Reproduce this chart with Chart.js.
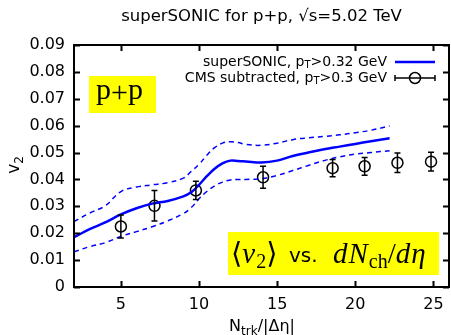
<!DOCTYPE html>
<html><head><meta charset="utf-8">
<script src="https://cdn.jsdelivr.net/npm/chart.js@4"></script>
<style>html,body{margin:0;padding:0;background:#fff}#wrap{width:451px;height:335px}</style>
</head><body><div id="wrap"><canvas id="c" width="451" height="335"></canvas></div>
<script>
// ---- data ----
const curveX     = [2, 3, 4, 5, 6, 7, 8, 9, 9.5, 10, 10.5, 11, 11.5, 12, 12.5, 13, 14, 15, 16, 17, 18, 19, 20, 21, 22.2];
const modelMean  = [0.0185, 0.0215, 0.0240, 0.0270, 0.0293, 0.0310, 0.0320, 0.0337, 0.0352, 0.0380, 0.0412, 0.0440, 0.0460, 0.0470, 0.0469, 0.0467, 0.0463, 0.0470, 0.0487, 0.0500, 0.0512, 0.0522, 0.0532, 0.0542, 0.0553];
const modelUpper = [0.0243, 0.0275, 0.0302, 0.0355, 0.0372, 0.0380, 0.0388, 0.0405, 0.0430, 0.0456, 0.0490, 0.0518, 0.0535, 0.0540, 0.0537, 0.0530, 0.0527, 0.0535, 0.0548, 0.0555, 0.0560, 0.0566, 0.0574, 0.0583, 0.0599];
const modelLower = [0.0131, 0.0150, 0.0165, 0.0188, 0.0206, 0.0224, 0.0246, 0.0273, 0.0295, 0.0328, 0.0355, 0.0376, 0.0390, 0.0398, 0.0400, 0.0400, 0.0403, 0.0415, 0.0433, 0.0452, 0.0470, 0.0484, 0.0494, 0.0500, 0.0507];
const cmsX   = [5.0, 7.15, 9.8, 14.1, 18.55, 20.6, 22.7, 24.85];
const cmsV2  = [0.0225, 0.0302, 0.0359, 0.0408, 0.0442, 0.0449, 0.0462, 0.0466];
const cmsErr = [0.0043, 0.0057, 0.0034, 0.0041, 0.0032, 0.0033, 0.0036, 0.0035];
const xTicks = [5, 10, 15, 20, 25];
const yTicks = [0, 0.01, 0.02, 0.03, 0.04, 0.05, 0.06, 0.07, 0.08, 0.09];
const yTickLabels = ['0', '0.01', '0.02', '0.03', '0.04', '0.05', '0.06', '0.07', '0.08', '0.09'];

const BLUE = '#0000ff';
const SANS = '"DejaVu Sans", sans-serif';
const SERIF = '"Liberation Serif", "DejaVu Serif", serif';

const pts = (xs, ys) => xs.map((x, i) => ({x: x, y: ys[i]}));

function drawRuns(ctx, runs, x, y) {
  // run: [text, font, dy, extraAfter, extraBefore]
  for (const r of runs) {
    x += (r[4] || 0);
    ctx.font = r[1];
    ctx.fillText(r[0], x, y + (r[2] || 0));
    x += ctx.measureText(r[0]).width + (r[3] || 0);
  }
  return x;
}
function runsWidth(ctx, runs) {
  let w = 0;
  for (const r of runs) { ctx.font = r[1]; w += ctx.measureText(r[0]).width + (r[3] || 0) + (r[4] || 0); }
  return w;
}

const deco = {
  id: 'deco',
  afterDatasetsDraw(chart) {
    const ctx = chart.ctx, xs = chart.scales.x, ys = chart.scales.y;
    ctx.save();
    ctx.strokeStyle = '#000';
    ctx.lineWidth = 1.5;
    for (let i = 0; i < cmsX.length; i++) {
      const px = xs.getPixelForValue(cmsX[i]);
      const yt = ys.getPixelForValue(cmsV2[i] + cmsErr[i]);
      const yb = ys.getPixelForValue(cmsV2[i] - cmsErr[i]);
      ctx.beginPath();
      ctx.moveTo(px, yt); ctx.lineTo(px, yb);
      ctx.moveTo(px - 3, yt); ctx.lineTo(px + 3, yt);
      ctx.moveTo(px - 3, yb); ctx.lineTo(px + 3, yb);
      ctx.stroke();
    }
    ctx.restore();
  },
  afterDraw(chart) {
    const ctx = chart.ctx, xs = chart.scales.x, ys = chart.scales.y, a = chart.chartArea;
    ctx.save();
    ctx.strokeStyle = '#000';
    ctx.lineWidth = 2;
    ctx.beginPath();
    for (const t of xTicks) {
      const px = Math.round(xs.getPixelForValue(t)) + 0.5;
      ctx.moveTo(px, a.bottom); ctx.lineTo(px, a.bottom - 6);
      ctx.moveTo(px, a.top); ctx.lineTo(px, a.top + 6);
    }
    for (const t of yTicks) {
      const py = Math.round(ys.getPixelForValue(t)) + 0.5;
      ctx.moveTo(a.left, py); ctx.lineTo(a.left + 6, py);
      ctx.moveTo(a.right, py); ctx.lineTo(a.right - 6, py);
    }
    ctx.stroke();
    ctx.lineWidth = 2;
    ctx.strokeRect(a.left, a.top, a.right - a.left, a.bottom - a.top);

    // legend
    ctx.fillStyle = '#000';
    ctx.textBaseline = 'middle';
    const LF = '14px ' + SANS, LS = '10px ' + SANS;
    const l1 = [['superSONIC, p', LF], ['T', LS, 3], ['>0.32 GeV', LF]];
    const l2 = [['CMS subtracted, p', LF], ['T', LS, 3], ['>0.3 GeV', LF]];
    const tx = 387, y1 = 62, y2 = 78;
    drawRuns(ctx, l1, tx - runsWidth(ctx, l1), y1);
    drawRuns(ctx, l2, tx - runsWidth(ctx, l2), y2);
    ctx.strokeStyle = BLUE; ctx.lineWidth = 2.5;
    ctx.beginPath(); ctx.moveTo(395, y1); ctx.lineTo(435, y1); ctx.stroke();
    ctx.strokeStyle = '#000'; ctx.lineWidth = 1.5;
    ctx.beginPath();
    ctx.moveTo(395, y2); ctx.lineTo(435, y2);
    ctx.moveTo(395, y2 - 3); ctx.lineTo(395, y2 + 3);
    ctx.moveTo(435, y2 - 3); ctx.lineTo(435, y2 + 3);
    ctx.stroke();
    ctx.beginPath(); ctx.arc(415, y2, 5.5, 0, Math.PI * 2); ctx.stroke();

    // yellow label boxes
    ctx.fillStyle = '#ffff00';
    ctx.fillRect(89, 76, 67, 37);
    ctx.fillRect(228, 232, 211, 43);
    ctx.fillStyle = '#000';
    ctx.textBaseline = 'alphabetic';
    const PF = '30px ' + SERIF, PP = '30px ' + SERIF;
    ctx.font = PP;
    const pm = ctx.measureText('+');
    const plusDy = (pm.actualBoundingBoxAscent - pm.actualBoundingBoxDescent) / 2 - 6.5;
    drawRuns(ctx, [['p', PF], ['+', PP, plusDy, 0, 0], ['p', PF]], 96, 99);
    const MI = 'italic 29px ' + SERIF, MR = '29px ' + SERIF, MS = '20px ' + SERIF;
    const base = 263;
    drawRuns(ctx, [['\u27E8', MR], ['v', MI, 0, 1], ['2', MS, 5], ['\u27E9', MR]], 231, base);
    drawRuns(ctx, [['vs.', '20px ' + SANS]], 289, base - 1);
    drawRuns(ctx, [['d', MI, 0, 1], ['N', MI, 0, 1], ['ch', MS, 5], ['/', MR], ['d', MI, 0, 1], ['\u03B7', MI]], 333, base);

    // axis titles
    const xl = [['N', '16px ' + SANS], ['trk', '12px ' + SANS, 4], ['/|\u0394\u03B7|', '16px ' + SANS]];
    const xw = runsWidth(ctx, xl);
    drawRuns(ctx, xl, 262 - xw / 2, 331);
    ctx.translate(19, 165);
    ctx.rotate(-Math.PI / 2);
    const yl = [['v', '17px ' + SANS], ['2', '12px ' + SANS, 4]];
    drawRuns(ctx, yl, -runsWidth(ctx, yl) / 2, 0);
    ctx.restore();
  }
};

new Chart(document.getElementById('c'), {
  type: 'line',
  data: {
    datasets: [
      {data: pts(curveX, modelUpper), borderColor: BLUE, borderWidth: 1.5, borderDash: [5, 4], pointRadius: 0, tension: 0.4, fill: false},
      {data: pts(curveX, modelLower), borderColor: BLUE, borderWidth: 1.5, borderDash: [5, 4], pointRadius: 0, tension: 0.4, fill: false},
      {data: pts(curveX, modelMean), borderColor: BLUE, borderWidth: 2.5, pointRadius: 0, tension: 0.4, fill: false},
      {data: pts(cmsX, cmsV2), showLine: false, pointRadius: 5.5, pointBorderWidth: 1.5, pointBorderColor: '#000', pointBackgroundColor: 'rgba(0,0,0,0)'}
    ]
  },
  options: {
    responsive: false,
    animation: false,
    devicePixelRatio: 1,
    layout: {autoPadding: false, padding: {left: 0, right: 2, top: 0, bottom: 0}},
    plugins: {
      legend: {display: false},
      tooltip: {enabled: false},
      title: {display: true, fullSize: false, text: 'superSONIC for p+p, \u221As=5.02 TeV', color: '#000',
              font: {family: SANS, size: 16.5, weight: 'normal', lineHeight: 1.2}, padding: {top: 7, bottom: 18.2}}
    },
    scales: {
      x: {
        type: 'linear', min: 2, max: 26,
        grid: {display: false, drawTicks: false},
        border: {display: false},
        afterBuildTicks: s => { s.ticks = xTicks.map(v => ({value: v})); },
        afterFit: s => { s.height = 48; s.paddingLeft = 0; s.paddingRight = 0; },
        ticks: {color: '#000', font: {family: SANS, size: 16}, padding: 8, maxRotation: 0, callback: v => String(v)}
      },
      y: {
        type: 'linear', min: 0, max: 0.09,
        grid: {display: false, drawTicks: false},
        border: {display: false},
        afterBuildTicks: s => { s.ticks = yTicks.map(v => ({value: v})); },
        afterFit: s => { s.width = 74; s.paddingTop = 0; s.paddingBottom = 0; },
        ticks: {color: '#000', font: {family: SANS, size: 16}, padding: 9,
                callback: (v) => { const i = yTicks.findIndex(t => Math.abs(t - v) < 1e-9); return i >= 0 ? yTickLabels[i] : ''; }}
      }
    }
  },
  plugins: [deco]
});
</script>
</body></html>
